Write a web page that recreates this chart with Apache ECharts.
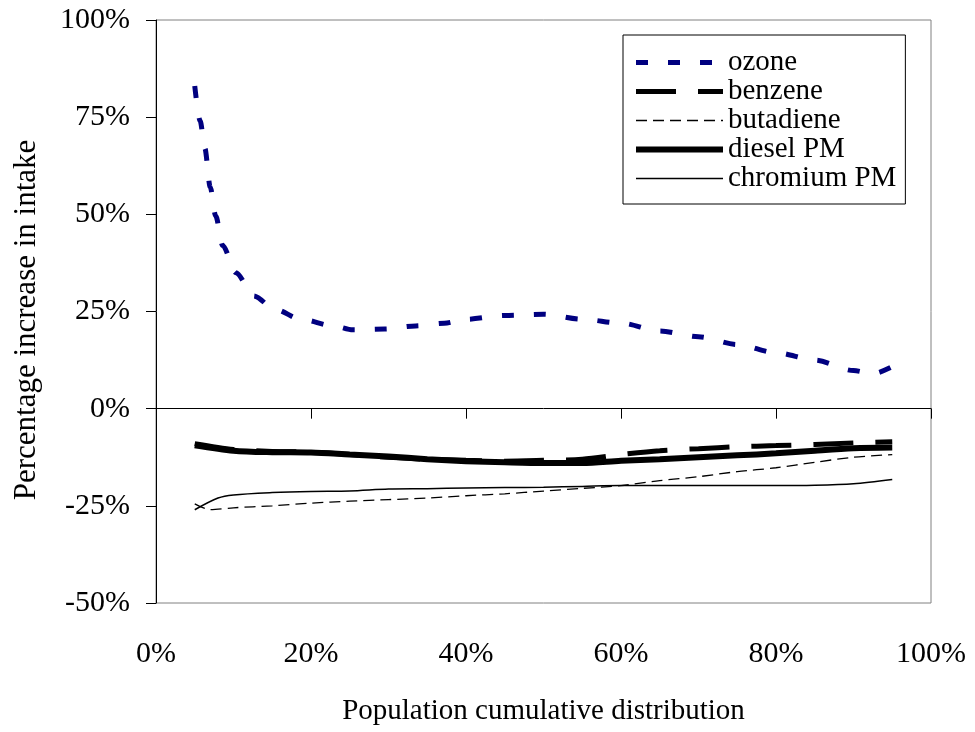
<!DOCTYPE html>
<html>
<head>
<meta charset="utf-8">
<script src="https://cdn.jsdelivr.net/npm/echarts@6/dist/echarts.min.js"></script>
<style>
  html, body { margin: 0; padding: 0; background: #fff; }
  #chart { width: 975px; height: 732px; }
</style>
</head>
<body>
<div id="chart"></div>
<script>
// values (x = population cumulative %, y = % change in intake)
var ozoneX = [5, 5.7, 6.3, 7, 7.7, 8.6, 10.3, 12.6, 15.4, 18.7, 22.9, 25.4, 29.5, 33.5, 37.2, 40, 45, 50, 55, 60, 65, 70, 75, 80, 85, 90, 92.5, 95];
var ozoneY = [83, 74, 67, 57, 49.6, 42, 35, 29, 25.5, 23, 21.3, 20.3, 20.5, 21.3, 22, 23, 24, 24.3, 23, 22, 20, 18.5, 16.5, 14.4, 12.5, 9.8, 9, 10.8];

var stepX = [5, 10, 15, 20, 25, 30, 35, 40, 45, 50, 55, 60, 65, 70, 75, 80, 85, 90, 95];
var benzeneY = [-9, -10.5, -11, -11.2, -11.8, -12.5, -13, -13.3, -13.5, -13.3, -13, -11.8, -10.8, -10.3, -9.8, -9.5, -9.2, -8.8, -8.5];
var dieselY = [-9.4, -10.8, -11.2, -11.3, -11.8, -12.3, -13, -13.5, -13.8, -14, -14, -13.4, -13, -12.5, -12, -11.5, -10.8, -10.2, -10];

var butadieneX = [5, 7, 10, 15, 20, 25, 30, 35, 40, 45, 50, 55, 60, 65, 70, 75, 80, 85, 90, 95];
var butadieneY = [-24.5, -26, -25.5, -25, -24.3, -23.8, -23.4, -23, -22.4, -21.9, -21.2, -20.5, -19.8, -18.5, -17.5, -16.2, -15.2, -13.8, -12.5, -11.8];

var chromiumX = [5, 8, 10, 15, 20, 25, 30, 35, 40, 45, 50, 55, 60, 65, 70, 75, 80, 85, 90, 95];
var chromiumY = [-26, -23, -22.2, -21.6, -21.3, -21.2, -20.7, -20.6, -20.4, -20.3, -20.2, -20, -19.8, -19.8, -19.8, -19.8, -19.8, -19.7, -19.3, -18.2];

function pairs(xs, ys) {
  return xs.map(function (x, i) { return [x, ys[i]]; });
}

var FONT = 'Liberation Serif';
var chart = echarts.init(document.getElementById('chart'));

chart.setOption({
  animation: false,
  textStyle: { fontFamily: FONT, color: '#000' },
  grid: {
    left: 156, right: 44, top: 20, bottom: 129,
    show: true, borderColor: '#808080', borderWidth: 1
  },
  legend: {
    orient: 'vertical',
    left: 623, top: 35,
    padding: [13, 9, 11, 10],
    itemWidth: 87, itemHeight: 14, itemGap: 0, itemTextGap: 9,
    borderColor: '#000', borderWidth: 1,
    backgroundColor: '#fff',
    itemStyle: { color: 'rgba(0,0,0,0)', borderWidth: 0 },
    lineStyle: { width: 'inherit' },
    textStyle: { fontFamily: FONT, fontSize: 29, lineHeight: 28, color: '#000' },
    data: ['ozone', 'benzene', 'butadiene', 'diesel PM', 'chromium PM']
  },
  // y axis title drawn by hand so it can sit a little below the plot middle, as in the original
  graphic: [{
    type: 'text', x: 27, y: 320, rotation: Math.PI / 2,
    style: {
      text: 'Percentage increase in intake',
      font: '31px "Liberation Serif"', fill: '#000',
      align: 'center', verticalAlign: 'middle'
    }
  }],
  xAxis: [
    {
      type: 'value', min: 0, max: 100, interval: 20,
      axisLine: { onZero: true, lineStyle: { color: '#000', width: 1 } },
      axisTick: { length: 10, lineStyle: { color: '#000' } },
      axisLabel: { show: false },
      splitLine: { show: false }
    },
    {
      type: 'value', min: 0, max: 100, interval: 20, position: 'bottom',
      axisLine: { show: false },
      axisTick: { show: false },
      splitLine: { show: false },
      axisLabel: { formatter: '{value}%', margin: 36, fontFamily: FONT, fontSize: 30, color: '#000' },
      name: 'Population cumulative distribution',
      nameLocation: 'middle', nameGap: 94,
      nameTextStyle: { fontFamily: FONT, fontSize: 29, color: '#000' }
    }
  ],
  yAxis: {
    type: 'value', min: -50, max: 100, interval: 25,
    axisLine: { show: true, onZero: false, lineStyle: { color: '#000', width: 1 } },
    axisTick: { show: true, length: 10, lineStyle: { color: '#000' } },
    splitLine: { show: false },
    axisLabel: { formatter: '{value}%', margin: 26, fontFamily: FONT, fontSize: 30, color: '#000' }
  },
  series: [
    {
      name: 'ozone', type: 'line', data: pairs(ozoneX, ozoneY),
      symbol: 'none', smooth: 0.3, smoothMonotone: 'x',
      lineStyle: { color: '#000080', width: 5, type: [12, 20] },
      itemStyle: { color: '#000080' }
    },
    {
      name: 'benzene', type: 'line', data: pairs(stepX, benzeneY),
      symbol: 'none', smooth: 0.3,
      lineStyle: { color: '#000', width: 5, type: [40, 22] },
      itemStyle: { color: '#000' }
    },
    {
      name: 'butadiene', type: 'line', data: pairs(butadieneX, butadieneY),
      symbol: 'none', smooth: 0.3,
      lineStyle: { color: '#000', width: 1.3, type: [11, 6] },
      itemStyle: { color: '#000' }
    },
    {
      name: 'diesel PM', type: 'line', data: pairs(stepX, dieselY),
      symbol: 'none', smooth: 0.3,
      lineStyle: { color: '#000', width: 6, type: 'solid' },
      itemStyle: { color: '#000' }
    },
    {
      name: 'chromium PM', type: 'line', data: pairs(chromiumX, chromiumY),
      symbol: 'none', smooth: 0.3,
      lineStyle: { color: '#000', width: 1.5, type: 'solid' },
      itemStyle: { color: '#000' }
    }
  ]
});
</script>
</body>
</html>
